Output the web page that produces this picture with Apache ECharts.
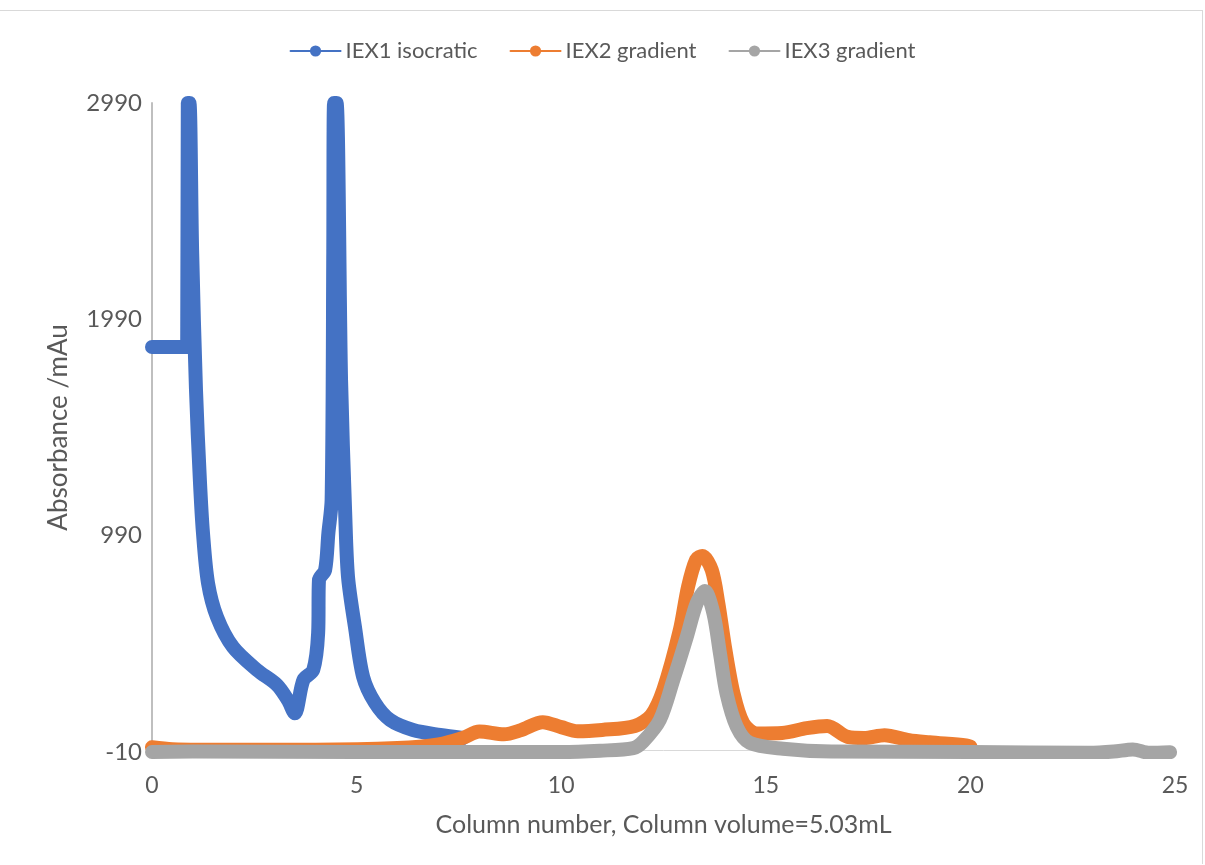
<!DOCTYPE html>
<html>
<head>
<meta charset="utf-8">
<title>IEX chromatograms</title>
<script src="https://cdn.jsdelivr.net/npm/echarts@6/dist/echarts.min.js"></script>
<style>
	html,body{margin:0;padding:0;background:#fff;}
	#frame{position:absolute;left:0;top:10px;width:1202px;height:853px;border-top:1px solid #d9d9d9;border-right:1px solid #d9d9d9;}
	#chart{position:absolute;left:0;top:0;width:1205px;height:865px;}
</style>
</head>
<body>
<div id="frame"></div>
<div id="chart"></div>
<script>
	// IEX1 isocratic (column number / absorbance mAu)
	var iex1X = [0, 0.86, 0.875, 0.915, 0.98, 1.075, 1.17, 1.246, 1.369, 1.588, 1.979, 2.566, 3.055, 3.32, 3.49, 3.70, 3.94, 4.06, 4.08, 4.23, 4.31, 4.39, 4.43, 4.45, 4.51, 4.62, 4.72, 4.79, 4.96, 5.16, 5.45, 5.82, 6.38, 7.04, 7.6];
	var iex1Y = [1862, 1862, 2990, 2990, 2311, 1664, 1247, 1002, 771, 614, 475, 369, 300, 230, 169, 323, 369, 539, 785, 831, 1001, 1155, 2300, 2990, 2990, 1710, 1100, 800, 568, 337, 217, 138, 92, 69, 55];

	// IEX2 gradient
	var iex2X = [0, 0.5, 2, 4, 6, 7, 7.6, 8.0, 8.6, 9.0, 9.55, 10.0, 10.4, 11.0, 11.8, 12.2, 12.5, 12.9, 13.1, 13.3, 13.45, 13.68, 13.84, 14.0, 14.21, 14.45, 14.78, 15.4, 16.0, 16.5, 17.0, 17.4, 17.9, 18.5, 19.0, 19.9, 20.0];
	var iex2Y = [12, 3, 0, 0, 8, 25, 55, 85, 72, 90, 128, 105, 86, 92, 110, 160, 280, 554, 754, 880, 896, 831, 677, 477, 261, 123, 76, 78, 100, 110, 60, 55, 68, 45, 35, 20, 15];

	// IEX3 gradient
	var iex3X = [0, 1, 5, 10, 10.95, 11.76, 12.0, 12.41, 12.74, 13.07, 13.31, 13.51, 13.72, 13.88, 14.04, 14.29, 14.61, 15.42, 16.6, 20, 22.9, 23.5, 23.97, 24.38, 24.88];
	var iex3Y = [-10, -8, -10, -10, -4, 8, 38, 138, 323, 523, 677, 734, 631, 446, 261, 107, 32, 5, -8, -10, -14, -8, 2, -14, -11];

	var seriesNames = ['IEX1 isocratic', 'IEX2 gradient', 'IEX3 gradient'];
	var seriesColors = ['#4472C4', '#ED7D31', '#A5A5A5'];
	var xTicks = [0, 5, 10, 15, 20, 25];
	var yTicks = [-10, 990, 1990, 2990];

	function pairs(xs, ys){
		var out = [];
		for (var i = 0; i < xs.length; i++) out.push([xs[i], ys[i]]);
		return out;
	}

	var allData = [pairs(iex1X, iex1Y), pairs(iex2X, iex2Y), pairs(iex3X, iex3Y)];
	var fontName = 'Lato';
	var txt = '#595959';

	var chart = echarts.init(document.getElementById('chart'));
	var series = [];
	for (var k = 0; k < allData.length; k++) {
		series.push({
			name: seriesNames[k],
			type: 'line',
			data: allData[k],
			smooth: 0.3,
			symbol: 'circle',
			symbolSize: 14,
			showSymbol: false,
			lineStyle: {width: 14, color: seriesColors[k], cap: 'round', join: 'round'},
			itemStyle: {color: seriesColors[k]},
			z: 2 + k
		});
	}

	var option = {
		animation: false,
		textStyle: {fontFamily: fontName},
		legend: {
			data: seriesNames,
			top: 35,
			left: 'center',
			itemWidth: 50,
			itemHeight: 14,
			itemGap: 32,
			lineStyle: {width: 2},
			textStyle: {color: txt, fontSize: 22, fontFamily: fontName}
		},
		grid: {left: 152, right: 30, top: 103, bottom: 113, containLabel: false},
		xAxis: {
			type: 'value',
			min: xTicks[0],
			max: xTicks[xTicks.length - 1],
			interval: 5,
			name: 'Column number, Column volume=5.03mL',
			nameLocation: 'middle',
			nameGap: 60,
			nameTextStyle: {color: txt, fontSize: 25, fontFamily: fontName},
			axisLine: {show: true, lineStyle: {color: '#d9d9d9', width: 1}},
			axisTick: {show: false},
			splitLine: {show: false},
			axisLabel: {color: txt, fontSize: 23, margin: 22, fontFamily: fontName}
		},
		yAxis: {
			type: 'value',
			min: yTicks[0],
			max: yTicks[yTicks.length - 1],
			name: 'Absorbance /mAu',
			nameLocation: 'middle',
			nameGap: 80,
			nameRotate: 90,
			nameTextStyle: {color: txt, fontSize: 26, fontFamily: fontName},
			axisLine: {show: true, lineStyle: {color: '#bfbfbf', width: 2}},
			axisTick: {show: false},
			splitLine: {show: false},
			axisLabel: {
				color: txt, fontSize: 24, margin: 10, fontFamily: fontName,
				customValues: yTicks,
				formatter: function (v) { return String(v); }
			}
		},
		series: series
	};
	chart.setOption(option);
</script>
</body>
</html>
